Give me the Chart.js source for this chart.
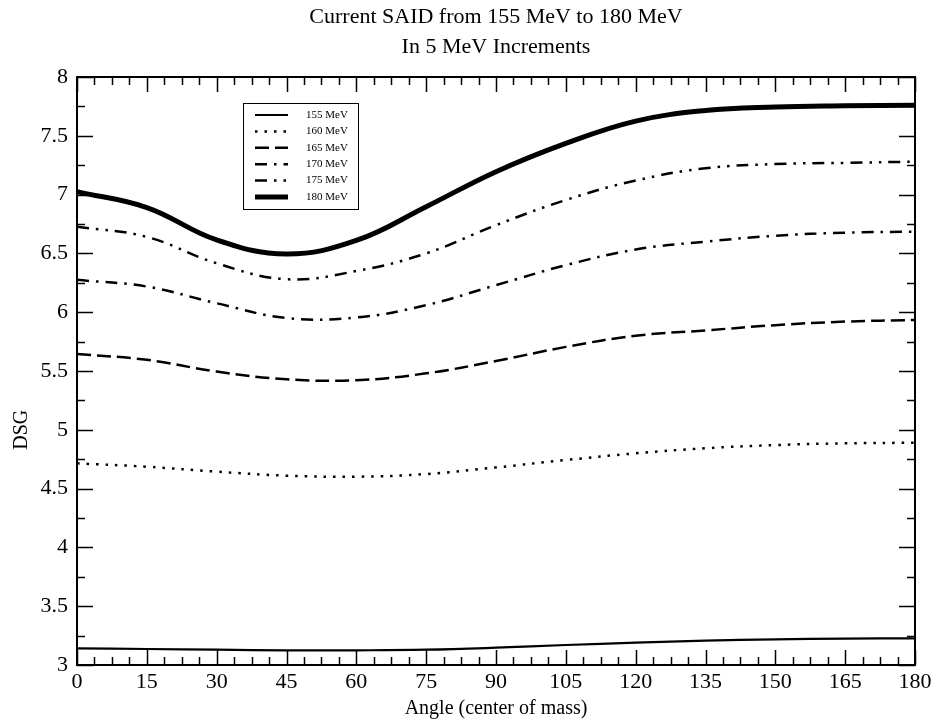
<!DOCTYPE html>
<html>
<head>
<meta charset="utf-8">
<script src="https://cdn.jsdelivr.net/npm/chart.js@4"></script>
<style>
  html, body { margin: 0; padding: 0; background: #fff; }
  canvas { display: block; }
</style>
</head>
<body>
<canvas id="myChart" width="938" height="723"></canvas>
<script>
// Angles (center of mass), degrees
const angles = [0, 15, 30, 45, 60, 75, 90, 105, 120, 135, 150, 165, 180];

// DSG, one array per energy
const mev155 = [3.142, 3.136, 3.130, 3.125, 3.125, 3.130, 3.147, 3.170, 3.190, 3.207, 3.218, 3.224, 3.227];
const mev160 = [4.715, 4.686, 4.644, 4.610, 4.601, 4.624, 4.680, 4.743, 4.800, 4.843, 4.870, 4.885, 4.890];
const mev165 = [5.645, 5.595, 5.495, 5.430, 5.422, 5.480, 5.585, 5.705, 5.800, 5.845, 5.890, 5.920, 5.934];
const mev170 = [6.275, 6.218, 6.076, 5.950, 5.955, 6.060, 6.230, 6.400, 6.533, 6.600, 6.650, 6.676, 6.685];
const mev175 = [6.727, 6.640, 6.416, 6.280, 6.350, 6.500, 6.740, 6.954, 7.120, 7.224, 7.260, 7.270, 7.280];
const mev180 = [7.025, 6.890, 6.615, 6.495, 6.610, 6.897, 7.195, 7.436, 7.625, 7.715, 7.745, 7.755, 7.760];

const seriesLabels = ['155 MeV', '160 MeV', '165 MeV', '170 MeV', '175 MeV', '180 MeV'];
const xTicks = [0, 15, 30, 45, 60, 75, 90, 105, 120, 135, 150, 165, 180];
const yTicks = [3, 3.5, 4, 4.5, 5, 5.5, 6, 6.5, 7, 7.5, 8];

const titleLines = ['Current SAID from 155 MeV to 180 MeV', 'In 5 MeV Increments'];
const yTitle = 'DSG';
const FONT = '"Liberation Serif", "DejaVu Serif", serif';

function points(ys) {
    return angles.map((a, i) => ({ x: a, y: ys[i] }));
}

function line(label, ys, width, dash) {
    return {
        label: label,
        data: points(ys),
        borderColor: '#000',
        backgroundColor: '#000',
        borderWidth: width,
        borderDash: dash,
        pointRadius: 0,
        fill: false,
        tension: 0.4
    };
}

// frame, inward ticks, titles and legend, xmgrace style
const gracePlugin = {
    id: 'grace',
    afterDraw(chart) {
        const ctx = chart.ctx;
        const a = chart.chartArea;
        const xs = chart.scales.x;
        const ys = chart.scales.y;
        ctx.save();
        ctx.strokeStyle = '#000';
        ctx.setLineDash([]);

        // minor/major ticks on all four sides
        ctx.lineWidth = 1.5;
        ctx.beginPath();
        for (let v = 0; v <= 180.001; v += 3.75) {
            const px = Math.round(xs.getPixelForValue(v)) + 0.5;
            const len = (Math.abs(v / 15 - Math.round(v / 15)) < 1e-6) ? 15 : 8;
            ctx.moveTo(px, a.bottom); ctx.lineTo(px, a.bottom - len);
            ctx.moveTo(px, a.top); ctx.lineTo(px, a.top + len);
        }
        for (let v = 3; v <= 8.001; v += 0.25) {
            const py = Math.round(ys.getPixelForValue(v)) + 0.5;
            const len = (Math.abs(v / 0.5 - Math.round(v / 0.5)) < 1e-6) ? 16 : 8;
            ctx.moveTo(a.left, py); ctx.lineTo(a.left + len, py);
            ctx.moveTo(a.right, py); ctx.lineTo(a.right - len, py);
        }
        ctx.stroke();

        ctx.lineWidth = 2;
        ctx.strokeRect(a.left, a.top, a.right - a.left, a.bottom - a.top);

        // titles
        ctx.fillStyle = '#000';
        ctx.font = '22px ' + FONT;
        ctx.textAlign = 'center';
        ctx.textBaseline = 'middle';
        const cx = (a.left + a.right) / 2;
        ctx.fillText(titleLines[0], cx, 17);
        ctx.fillText(titleLines[1], cx, 47);

        // y axis title, sits level with the 5 tick like the original
        ctx.save();
        ctx.font = '20px ' + FONT;
        ctx.translate(22, ys.getPixelForValue(5));
        ctx.rotate(-Math.PI / 2);
        ctx.fillText(yTitle, 0, 0);
        ctx.restore();

        // legend box
        const bx = a.left + 166, by = a.top + 26, bw = 115, bh = 106;
        ctx.lineWidth = 1;
        ctx.strokeRect(bx + 0.5, by + 0.5, bw, bh);
        ctx.font = '11px ' + FONT;
        ctx.textAlign = 'left';
        chart.data.datasets.forEach((ds, i) => {
            const ry = by + 12 + i * 16.4;
            ctx.lineWidth = ds.borderWidth;
            ctx.setLineDash(ds.borderDash || []);
            ctx.beginPath();
            ctx.moveTo(bx + 12, ry);
            ctx.lineTo(bx + 45, ry);
            ctx.stroke();
            ctx.setLineDash([]);
            ctx.fillText(ds.label, bx + 63, ry);
        });
        ctx.restore();
    }
};

const ctx = document.getElementById('myChart').getContext('2d');
const myChart = new Chart(ctx, {
    type: 'line',
    data: {
        datasets: [
            line(seriesLabels[0], mev155, 2.2, []),
            line(seriesLabels[1], mev160, 2.5, [2.5, 7]),
            line(seriesLabels[2], mev165, 2.5, [14, 6]),
            line(seriesLabels[3], mev170, 2.5, [12, 7, 2.5, 7]),
            line(seriesLabels[4], mev175, 2.5, [12, 7, 2.5, 7, 2.5, 7]),
            line(seriesLabels[5], mev180, 5, [])
        ]
    },
    options: {
        responsive: false,
        animation: false,
        layout: { padding: { top: 77, right: 23, left: 0, bottom: 0 } },
        plugins: {
            legend: { display: false },
            title: { display: false },
            tooltip: { enabled: false }
        },
        scales: {
            x: {
                type: 'linear',
                min: 0,
                max: 180,
                afterBuildTicks: (s) => { s.ticks = xTicks.map(v => ({ value: v })); },
                afterFit: (s) => { s.height = 58; },
                grid: { display: false, drawTicks: false },
                border: { display: false },
                ticks: { color: '#000', font: { family: FONT, size: 22 }, padding: 4, maxRotation: 0, autoSkip: false },
                title: { display: true, text: 'Angle (center of mass)', color: '#000', font: { family: FONT, size: 20 }, padding: { top: 0, bottom: 2 } }
            },
            y: {
                type: 'linear',
                min: 3,
                max: 8,
                afterBuildTicks: (s) => { s.ticks = yTicks.map(v => ({ value: v })); },
                afterFit: (s) => { s.width = 77; },
                grid: { display: false, drawTicks: false },
                border: { display: false },
                ticks: { color: '#000', font: { family: FONT, size: 22 }, padding: 9, autoSkip: false, callback: (v) => String(v) },
                title: { display: false }
            }
        }
    },
    plugins: [gracePlugin]
});
</script>
</body>
</html>
